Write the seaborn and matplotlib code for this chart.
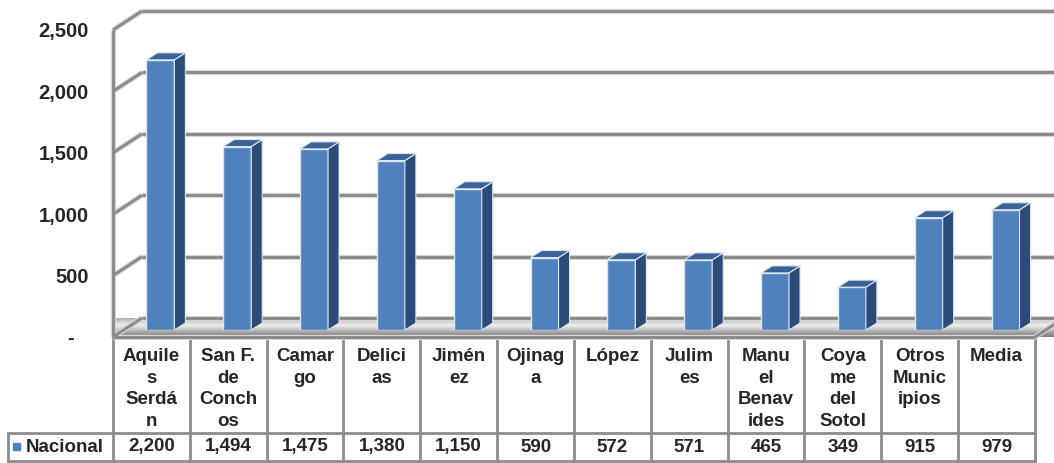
import numpy as np
import matplotlib
matplotlib.use("Agg")
import matplotlib.pyplot as plt
import seaborn as sns
from matplotlib.patches import Polygon, Rectangle
from matplotlib.transforms import ScaledTranslation

# ---------------- Data ----------------
municipios = ["Aquile\ns\nSerdá\nn", "San F.\nde\nConch\nos", "Camar\ngo", "Delici\nas",
              "Jimén\nez", "Ojinag\na", "López", "Julim\nes", "Manu\nel\nBenav\nides",
              "Coya\nme\ndel\nSotol", "Otros\nMunic\nipios", "Media"]
nacional = [2200, 1494, 1475, 1380, 1150, 590, 572, 571, 465, 349, 915, 979]
serie = "Nacional"
y_ticks = [0, 500, 1000, 1500, 2000, 2500]
y_labels = ["-", "500", "1,000", "1,500", "2,000", "2,500"]

# ---------------- Style ----------------
sns.set_style("white")
plt.rcParams["font.family"] = ["Liberation Sans", "DejaVu Sans"]
plt.rcParams["font.weight"] = "bold"

BLUE = "#4F81BD"
SIDE = "#2C4B78"
TOP = "#3A6296"
GRID = "#8C8C8C"

W, H = 1054, 463
fig = plt.figure(figsize=(W / 100, H / 100), dpi=100)

# front plane geometry (pixels)
front_x0 = 113
col_w = 76.83
front_y0 = 337
front_top = 30
n = len(municipios)

# bar plane sits a bit behind the front plane
bar_off = (9, 7)        # right, up
back_off = (29, 19)     # depth of the floor/walls
bar_depth = (11, 7)

ax_h = front_y0 - front_top
ax = fig.add_axes([(front_x0 + bar_off[0]) / W, (H - (front_y0 - bar_off[1])) / H,
                   n * col_w / W, ax_h / H])
ax.patch.set_visible(False)
for s in ax.spines.values():
    s.set_visible(False)

sx = 1 / col_w
sy = 2500 / ax_h


def off(p):
    return p[0] * sx, p[1] * sy


fdx, fdy = off((-bar_off[0], -bar_off[1]))
bdx, bdy = off((back_off[0] - bar_off[0], back_off[1] - bar_off[1]))
x_left, x_right = -0.5, n - 0.5

# floor with a grey shading
floor = Polygon([(x_left + fdx, fdy), (x_right + fdx, fdy),
                 (x_right + bdx, bdy), (x_left + bdx, bdy)],
                closed=True, facecolor="none", edgecolor="none", clip_on=False)
ax.add_patch(floor)
grad = np.linspace(0, 1, 64).reshape(-1, 1)
cmap = matplotlib.colors.LinearSegmentedColormap.from_list(
    "floor", ["#7f7f7f", "#9a9a9a", "#c4c4c4", "#ededed", "#d6d6d6", "#acacac"])
img = ax.imshow(grad, cmap=cmap, aspect="auto", origin="lower",
                extent=(x_left + fdx, x_right + bdx, fdy, bdy), zorder=0.5,
                clip_on=False)
img.set_clip_path(floor)


def gline(xs, ys, z=0.8):
    ax.plot(xs, ys, color="#d9d9d9", lw=3.8, solid_capstyle="butt", zorder=z, clip_on=False)
    ax.plot(xs, ys, color=GRID, lw=2.2, solid_capstyle="butt", zorder=z + 0.01, clip_on=False)


# back wall gridlines and left wall diagonals
for v in y_ticks:
    gline([x_left + bdx, x_right + bdx + 1], [v + bdy, v + bdy])
    gline([x_left + fdx, x_left + bdx], [v + fdy, v + bdy])
gline([x_left + fdx, x_left + fdx], [fdy, 2500 + fdy])
gline([x_left + fdx, x_right + fdx], [fdy, fdy])
gline([x_right + fdx, x_right + bdx], [fdy, bdy])

# ---------------- Bars ----------------
sns.barplot(x=municipios, y=nacional, color=BLUE, saturation=1, width=0.364,
            edgecolor="#dbe5f1", linewidth=1.0, ax=ax, zorder=2)
ddx, ddy = off(bar_depth)
for p in list(ax.patches):
    if not isinstance(p, Rectangle):
        continue
    x0, w, h = p.get_x(), p.get_width(), p.get_height()
    side = Polygon([(x0 + w, 0), (x0 + w + ddx, ddy), (x0 + w + ddx, h + ddy), (x0 + w, h)],
                   closed=True, facecolor=SIDE, edgecolor="#dbe5f1", lw=0.8, zorder=2)
    top = Polygon([(x0, h), (x0 + w, h), (x0 + w + ddx, h + ddy), (x0 + ddx, h + ddy)],
                  closed=True, facecolor=TOP, edgecolor="#dbe5f1", lw=0.8, zorder=2)
    ax.add_patch(side)
    ax.add_patch(top)

ax.set_xlim(-0.5, n - 0.5)
ax.set_ylim(0, 2500)
ax.set_xticks([])
ax.set_xlabel("")
ax.set_ylabel("")
ax.set_yticks(y_ticks)
ax.set_yticklabels(y_labels, fontsize=14.5, fontweight="bold")
ax.tick_params(axis="y", length=0, pad=24)
for lab in ax.get_yticklabels():
    dxp = -15 if lab.get_text() == "-" else 0
    lab.set_transform(lab.get_transform() +
                      ScaledTranslation(dxp / 100, -bar_off[1] / 100, fig.dpi_scale_trans))

# ---------------- Data table ----------------
tab = fig.add_axes([0, 0, 1, 1], zorder=-1)
tab.set_xlim(0, W)
tab.set_ylim(H, 0)
tab.axis("off")

row_div = 433
row_bot = 460.5
edges = [front_x0 + col_w * i for i in range(n + 1)]
lk = dict(color=GRID, lw=2.0, solid_capstyle="projecting")
for x in edges:
    tab.plot([x, x], [front_y0, row_bot], **lk)
tab.plot([8, edges[-1]], [row_div, row_div], **lk)
tab.plot([8, edges[-1]], [row_bot, row_bot], **lk)
tab.plot([8, 8], [row_div, row_bot], **lk)

for i, (name, val) in enumerate(zip(municipios, nacional)):
    cx = front_x0 + col_w * (i + 0.5)
    tab.text(cx, 348, name, ha="center", va="top", multialignment="center",
             fontsize=13.5, fontweight="bold", linespacing=1.36)
    tab.text(cx, 447, f"{val:,}", ha="center", va="center", fontsize=13.5, fontweight="bold")

tab.add_patch(Rectangle((13, 443), 7, 7, color=BLUE))
tab.text(26, 447, serie, ha="left", va="center", fontsize=13.5, fontweight="bold")

fig.savefig("out.png", dpi=100)
